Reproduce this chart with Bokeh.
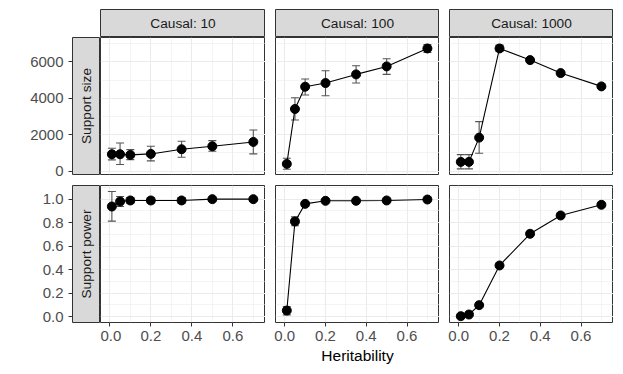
from bokeh.plotting import figure
from bokeh.layouts import row, column, Spacer
from bokeh.models import Range1d, FixedTicker, Label
from bokeh.embed import file_html
from bokeh.resources import INLINE
import math

# ---------------- data ----------------
heritability = [0.01, 0.05, 0.1, 0.2, 0.35, 0.5, 0.7]
causal_labels = ["Causal: 10", "Causal: 100", "Causal: 1000"]
row_labels = ["Support size", "Support power"]

size_mean_10 = [930, 930, 894, 948, 1204, 1368, 1605]
size_low_10 = [620, 365, 638, 565, 766, 1094, 948]
size_high_10 = [1258, 1550, 1185, 1368, 1641, 1678, 2261]

size_mean_100 = [401, 3410, 4632, 4833, 5307, 5745, 6729]
size_low_100 = [109, 2808, 4176, 4140, 4833, 5307, 6511]
size_high_100 = [711, 4030, 5052, 5508, 5781, 6164, 6948]

size_mean_1000 = [511, 511, 1842, 6729, 6091, 5380, 4650]
size_low_1000 = [128, 128, 985, 6565, 6030, 5330, 4600]
size_high_1000 = [912, 912, 2717, 6912, 6150, 5430, 4700]

power_mean_10 = [0.9375, 0.980, 0.989, 0.989, 0.989, 1.0, 1.0]
power_low_10 = [0.8125, 0.9375, 0.963, 0.963, 0.963, 0.998, 0.999]
power_high_10 = [1.065, 1.023, 1.014, 1.014, 1.014, 1.002, 1.001]

power_mean_100 = [0.051, 0.810, 0.960, 0.986, 0.986, 0.989, 0.997]
power_low_100 = [0.014, 0.773, 0.940, 0.978, 0.978, 0.982, 0.993]
power_high_100 = [0.085, 0.849, 0.980, 0.994, 0.994, 0.996, 1.001]

power_mean_1000 = [0.003, 0.017, 0.097, 0.435, 0.705, 0.861, 0.952]
power_low_1000 = [0.0, 0.008, 0.085, 0.425, 0.695, 0.853, 0.945]
power_high_1000 = [0.006, 0.026, 0.109, 0.445, 0.715, 0.869, 0.959]

x_ticks = [0.0, 0.2, 0.4, 0.6]
x_tick_labels = ["0.0", "0.2", "0.4", "0.6"]
x_minor = [0.1, 0.3, 0.5, 0.7]
size_ticks = [0, 2000, 4000, 6000]
size_tick_labels = ["0", "2000", "4000", "6000"]
size_minor = [1000, 3000, 5000, 7000]
power_ticks = [0.0, 0.2, 0.4, 0.6, 0.8, 1.0]
power_tick_labels = ["0.0", "0.2", "0.4", "0.6", "0.8", "1.0"]
power_minor = [0.1, 0.3, 0.5, 0.7, 0.9, 1.1]

size_data = [(size_mean_10, size_low_10, size_high_10),
             (size_mean_100, size_low_100, size_high_100),
             (size_mean_1000, size_low_1000, size_high_1000)]
power_data = [(power_mean_10, power_low_10, power_high_10),
              (power_mean_100, power_low_100, power_high_100),
              (power_mean_1000, power_low_1000, power_high_1000)]

# ---------------- style ----------------
FONT = "Liberation Sans"
STRIP_BG = "#D9D9D9"
BORDER = "#333333"
GRID = "#EBEBEB"
TICK_TXT = "#4D4D4D"
STRIP_TXT = "#1A1A1A"
ERR = "#555555"
TICK_FS = "15px"
STRIP_FS = "13.7px"
TITLE_FS = "15.5px"

x_range = Range1d(-0.0455, 0.7594)
y_size = Range1d(-180, 7330)
y_power = Range1d(-0.051, 1.1165)

PANEL_W = [165, 164, 164]
PANEL_H = 137
STRIP_H = 28
RSTRIP_W = 28
LEFT_AXIS = 72
TOP_PAD = 9
GAP = 10
TOP_ROW_MB = 6
BOT_ROW_MT = 5
BOTTOM = 50


def base(fw, fh, xr, yr, ml=0, mt=0, mb=0, xloc="below", yloc="left"):
    p = figure(frame_width=fw, frame_height=fh, x_range=xr, y_range=yr,
               toolbar_location=None, output_backend="svg",
               min_border_left=ml, min_border_right=0,
               min_border_top=mt, min_border_bottom=mb,
               x_axis_location=xloc, y_axis_location=yloc)
    p.border_fill_color = "white"
    p.outline_line_color = BORDER
    p.outline_line_width = 1
    return p


def hide_grids(p):
    for g in p.grid:
        g.visible = False


def style_axis(ax, ticks, labels):
    ax.ticker = FixedTicker(ticks=ticks)
    ax.major_label_overrides = dict(zip(ticks, labels))
    ax.major_label_text_font = FONT
    ax.major_label_text_font_size = TICK_FS
    ax.major_label_text_color = TICK_TXT
    ax.axis_line_color = None
    ax.major_tick_line_color = BORDER
    ax.major_tick_out = 4
    ax.major_tick_in = 0
    ax.minor_tick_line_color = None


def panel(idx, yr, yticks, yminor, data, show_x, xlabel, mt, mb):
    p = base(PANEL_W[idx], PANEL_H, x_range, yr,
             ml=(GAP if idx > 0 else 0), mt=mt, mb=mb)
    p.background_fill_color = "white"
    p.xaxis.ticker = FixedTicker(ticks=x_ticks, minor_ticks=x_minor)
    p.yaxis.ticker = FixedTicker(ticks=yticks, minor_ticks=yminor)
    p.xgrid.ticker = FixedTicker(ticks=x_ticks, minor_ticks=x_minor)
    p.ygrid.ticker = FixedTicker(ticks=yticks, minor_ticks=yminor)
    for g in (p.xgrid, p.ygrid):
        g.grid_line_color = GRID
        g.grid_line_width = 1.1
        g.minor_grid_line_color = GRID
        g.minor_grid_line_width = 0.55
    p.yaxis.visible = False
    if show_x:
        style_axis(p.xaxis, x_ticks, x_tick_labels)
        p.xaxis.ticker = FixedTicker(ticks=x_ticks, minor_ticks=x_minor)
        p.xaxis.major_label_standoff = 4
        if xlabel:
            p.xaxis.axis_label = xlabel
            p.xaxis.axis_label_text_font = FONT
            p.xaxis.axis_label_text_font_size = TITLE_FS
            p.xaxis.axis_label_text_font_style = "normal"
            p.xaxis.axis_label_text_color = "black"
            p.xaxis.axis_label_standoff = 3
    else:
        p.xaxis.visible = False
    mean, low, high = data
    p.segment(x0=heritability, x1=heritability, y0=low, y1=high,
              line_color=ERR, line_width=1.1)
    p.scatter(x=heritability, y=low, marker="dash", size=8,
              line_color=ERR, line_width=1.1)
    p.scatter(x=heritability, y=high, marker="dash", size=8,
              line_color=ERR, line_width=1.1)
    p.line(x=heritability, y=mean, line_color="black", line_width=1.1)
    p.scatter(x=heritability, y=mean, size=9, fill_color="black",
              line_color="black")
    return p


def col_strip(idx, text):
    p = base(PANEL_W[idx], STRIP_H, Range1d(0, 1), Range1d(0, 1),
             ml=(GAP if idx > 0 else 0), mt=TOP_PAD, xloc=None, yloc=None)
    hide_grids(p)
    p.background_fill_color = STRIP_BG
    p.add_layout(Label(x=0.5, y=0.5, text=text, text_align="center",
                       text_baseline="middle", text_font=FONT,
                       text_font_size=STRIP_FS, text_color=STRIP_TXT))
    return p


def row_strip(yr, yticks, ylabels, text, mt, mb):
    p = base(RSTRIP_W, PANEL_H, Range1d(0, 1), yr, ml=LEFT_AXIS, mt=mt,
             mb=mb, xloc=None)
    hide_grids(p)
    p.background_fill_color = STRIP_BG
    style_axis(p.yaxis, yticks, ylabels)
    p.yaxis.major_label_standoff = 5
    p.add_layout(Label(x=0.5, y=(yr.start + yr.end) / 2, text=text,
                       angle=math.pi / 2, text_align="center",
                       text_baseline="middle", text_font=FONT,
                       text_font_size=STRIP_FS, text_color=STRIP_TXT))
    return p


rs_top = row_strip(y_size, size_ticks, size_tick_labels, row_labels[0],
                   0, TOP_ROW_MB)
rs_bot = row_strip(y_power, power_ticks, power_tick_labels, row_labels[1],
                   BOT_ROW_MT, BOTTOM)

strips = [col_strip(i, causal_labels[i]) for i in range(3)]
tops = [panel(i, y_size, size_ticks, size_minor, size_data[i], False, None,
              0, TOP_ROW_MB) for i in range(3)]
bots = [panel(i, y_power, power_ticks, power_minor, power_data[i], True,
              "Heritability" if i == 1 else None, BOT_ROW_MT, BOTTOM)
        for i in range(3)]

layout = column(
    row(Spacer(width=LEFT_AXIS + RSTRIP_W, height=STRIP_H + TOP_PAD), *strips),
    row(rs_top, *tops),
    row(rs_bot, *bots),
)

open("out.html", "w").write(file_html(layout, INLINE))
